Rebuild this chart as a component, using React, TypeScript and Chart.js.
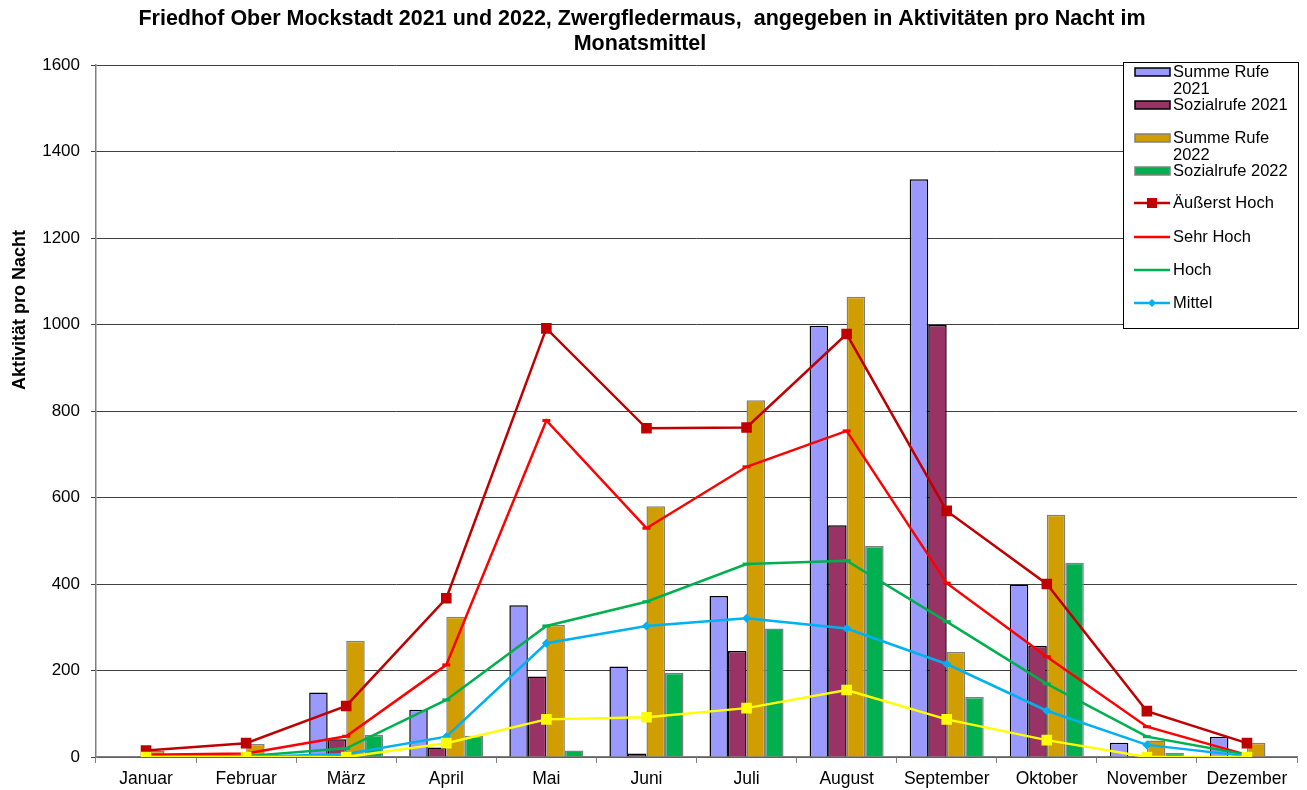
import React, { useEffect, useRef } from 'react';
import { Chart, registerables } from 'chart.js';

Chart.register(...registerables);

const months = ['Januar', 'Februar', 'März', 'April', 'Mai', 'Juni', 'Juli', 'August', 'September', 'Oktober', 'November', 'Dezember'];
const summeRufe2021 = [0, 0, 149, 109, 351, 209, 372, 997, 1336, 399, 33, 47];
const sozialrufe2021 = [0, 0, 41, 22, 186, 8, 245, 536, 999, 257, 2, 0];
const summeRufe2022 = [14, 30, 269, 324, 305, 580, 825, 1064, 243, 560, 38, 33];
const sozialrufe2022 = [0, 0, 51, 49, 15, 195, 297, 488, 139, 449, 10, 2];
const aeusserstHoch = [15, 32, 118, 367, 991, 760, 762, 978, 569, 400, 106, 32];
const sehrHoch = [5, 8, 48, 213, 778, 529, 671, 754, 402, 232, 70, 5];
const hoch = [0, 2, 20, 132, 303, 359, 446, 454, 313, 169, 47, 5];
const mittel = [0, 0, 7, 47, 263, 303, 321, 297, 215, 107, 28, 2];
const gering = [0, 0, 0, 32, 87, 92, 113, 155, 87, 39, 0, 0];
const yTicks = [0, 200, 400, 600, 800, 1000, 1200, 1400, 1600];

const titleLines = ['Friedhof Ober Mockstadt 2021 und 2022, Zwergfledermaus,  angegeben in Aktivitäten pro Nacht im', 'Monatsmittel'];
const yAxisTitle = 'Aktivität pro Nacht';
const FONT = '"Liberation Sans", Arial, sans-serif';

const C_PURPLE = '#9999FF';
const C_MAROON = '#993366';
const C_GOLD = '#D09E00';
const C_GREEN = '#00B050';
const C_DARKRED = '#C00000';
const C_RED = '#FF0000';
const C_CYAN = '#00B0F0';
const C_YELLOW = '#FFFF00';

const legendItems = [
  { kind: 'bar', lines: ['Summe Rufe', '2021'], fill: C_PURPLE, stroke: '#000000', y: 72 },
  { kind: 'bar', lines: ['Sozialrufe 2021'], fill: C_MAROON, stroke: '#000000', y: 105 },
  { kind: 'bar', lines: ['Summe Rufe', '2022'], fill: C_GOLD, stroke: '#808080', y: 138 },
  { kind: 'bar', lines: ['Sozialrufe 2022'], fill: C_GREEN, stroke: '#808080', y: 171 },
  { kind: 'line', lines: ['Äußerst Hoch'], color: C_DARKRED, marker: 'rect', y: 203 },
  { kind: 'line', lines: ['Sehr Hoch'], color: C_RED, marker: 'none', y: 237 },
  { kind: 'line', lines: ['Hoch'], color: C_GREEN, marker: 'none', y: 270 },
  { kind: 'line', lines: ['Mittel'], color: C_CYAN, marker: 'diamond', y: 303 },
];

const overlayPlugin = {
  id: 'overlay',
  afterDraw(chart: any) {
    const ctx = chart.ctx;
    ctx.save();
    // title
    ctx.fillStyle = '#000';
    ctx.font = `bold 21.5px ${FONT}`;
    ctx.textAlign = 'center';
    ctx.textBaseline = 'middle';
    ctx.fillText(titleLines[0], 642, 19);
    ctx.fillText(titleLines[1], 640, 44);
    // y axis title
    ctx.save();
    ctx.translate(20, 310);
    ctx.rotate(-Math.PI / 2);
    ctx.font = `bold 18px ${FONT}`;
    ctx.fillText(yAxisTitle, 0, 0);
    ctx.restore();
    // legend box
    const bx = 1123.5, by = 62.5, bw = 175, bh = 266;
    ctx.fillStyle = '#fff';
    ctx.fillRect(bx, by, bw, bh);
    ctx.strokeStyle = '#000';
    ctx.lineWidth = 1;
    ctx.strokeRect(bx, by, bw, bh);
    ctx.font = `16.5px ${FONT}`;
    ctx.textAlign = 'left';
    ctx.textBaseline = 'middle';
    for (const it of legendItems as any[]) {
      if (it.kind === 'bar') {
        ctx.fillStyle = it.fill;
        ctx.fillRect(1135, it.y - 4, 35, 8);
        ctx.strokeStyle = it.stroke;
        ctx.lineWidth = 1.5;
        ctx.strokeRect(1135, it.y - 4, 35, 8);
      } else {
        ctx.strokeStyle = it.color;
        ctx.lineWidth = 2.5;
        ctx.beginPath();
        ctx.moveTo(1134, it.y);
        ctx.lineTo(1170, it.y);
        ctx.stroke();
        if (it.marker === 'rect') {
          ctx.fillStyle = it.color;
          ctx.fillRect(1147, it.y - 5, 10, 10);
        } else if (it.marker === 'diamond') {
          ctx.fillStyle = it.color;
          ctx.beginPath();
          ctx.moveTo(1152, it.y - 4);
          ctx.lineTo(1156, it.y);
          ctx.lineTo(1152, it.y + 4);
          ctx.lineTo(1148, it.y);
          ctx.closePath();
          ctx.fill();
        }
      }
      ctx.fillStyle = '#000';
      it.lines.forEach((t: string, i: number) => ctx.fillText(t, 1173, it.y + i * 17));
    }
    ctx.restore();
  },
};

export default function App() {
  const ref = useRef<HTMLCanvasElement>(null);
  useEffect(() => {
    document.body.style.margin = '0';
    document.body.style.overflow = 'hidden';
    const barCommon = { type: 'bar' as const, categoryPercentage: 0.74, barPercentage: 1.0, borderWidth: 1.5, order: 2 };
    const lineCommon = { type: 'line' as const, borderWidth: 2.5, tension: 0, order: 1 };
    const chart = new Chart(ref.current!, {
      type: 'bar',
      data: {
        labels: months,
        datasets: [
          { ...lineCommon, label: 'Gering', data: gering, borderColor: C_YELLOW, backgroundColor: C_YELLOW, pointStyle: 'rect', pointRadius: 7.5, pointBorderWidth: 0 },
          { ...lineCommon, label: 'Mittel', data: mittel, borderColor: C_CYAN, backgroundColor: C_CYAN, pointStyle: 'rectRot', pointRadius: 4.5, pointBorderWidth: 0 },
          { ...lineCommon, label: 'Hoch', data: hoch, borderColor: C_GREEN, backgroundColor: C_GREEN, pointStyle: 'line', pointRadius: 4, pointBorderWidth: 3 },
          { ...lineCommon, label: 'Sehr Hoch', data: sehrHoch, borderColor: C_RED, backgroundColor: C_RED, pointStyle: 'line', pointRadius: 4, pointBorderWidth: 3 },
          { ...lineCommon, label: 'Äußerst Hoch', data: aeusserstHoch, borderColor: C_DARKRED, backgroundColor: C_DARKRED, pointStyle: 'rect', pointRadius: 7.5, pointBorderWidth: 0 },
          { ...barCommon, label: 'Summe Rufe 2021', data: summeRufe2021, backgroundColor: C_PURPLE, borderColor: '#000000' },
          { ...barCommon, label: 'Sozialrufe 2021', data: sozialrufe2021, backgroundColor: C_MAROON, borderColor: '#000000' },
          { ...barCommon, label: 'Summe Rufe 2022', data: summeRufe2022, backgroundColor: C_GOLD, borderColor: '#808080' },
          { ...barCommon, label: 'Sozialrufe 2022', data: sozialrufe2022, backgroundColor: C_GREEN, borderColor: '#808080' },
        ] as any,
      },
      options: {
        responsive: false,
        animation: false,
        layout: { padding: { left: 0, top: 65, right: 10, bottom: 0 } },
        plugins: { legend: { display: false }, title: { display: false }, tooltip: { enabled: false } },
        scales: {
          x: {
            offset: true,
            grid: { offset: true, drawOnChartArea: false, tickLength: 6, color: '#808080', lineWidth: 1 },
            border: { color: '#808080', width: 1.5 },
            ticks: { color: '#000', font: { family: FONT, size: 17.5 }, padding: 6, maxRotation: 0, autoSkip: false },
            afterFit: (s: any) => { s.height = 33; },
          },
          y: {
            min: 0,
            max: 1600,
            afterBuildTicks: (s: any) => { s.ticks = yTicks.map((v) => ({ value: v })); },
            grid: { color: '#404040', lineWidth: 1, tickLength: 5 },
            border: { color: '#808080', width: 1.5 },
            ticks: { color: '#000', font: { family: FONT, size: 17 }, padding: 11, callback: (v: any) => String(v) },
            afterFit: (s: any) => { s.width = 96; },
          },
        },
      },
      plugins: [overlayPlugin],
    });
    return () => chart.destroy();
  }, []);
  return (
    <div style={{ width: 1307, height: 790 }}>
      <canvas ref={ref} width={1307} height={790} style={{ display: 'block' }} />
    </div>
  );
}
